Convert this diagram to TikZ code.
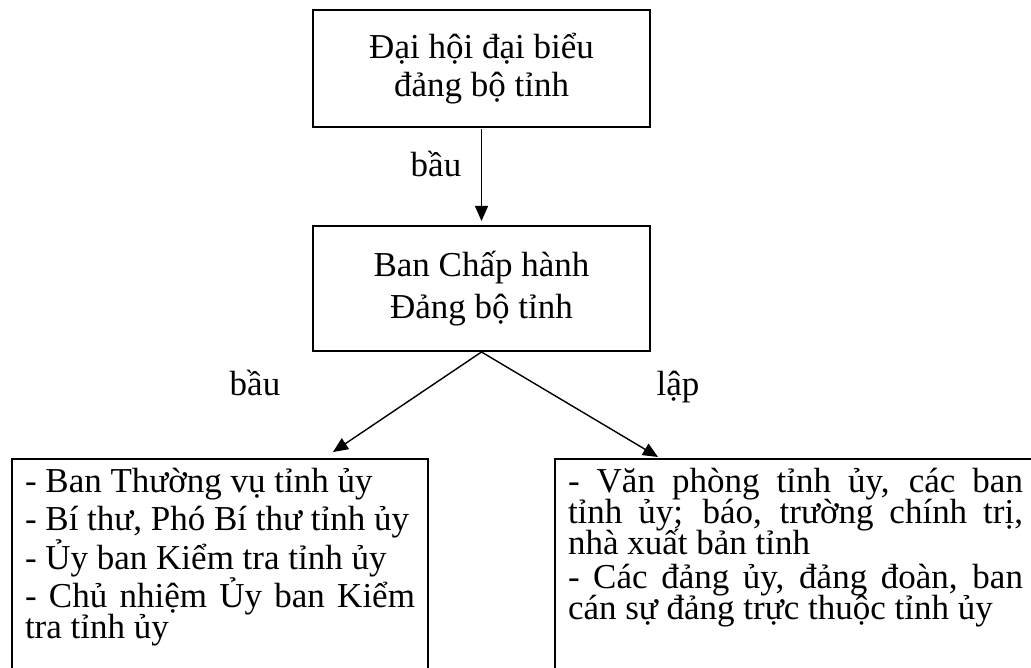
\documentclass[tikz,border=0pt]{standalone}
\usepackage{fontspec}
\setmainfont{Liberation Serif}
\usetikzlibrary{arrows.meta}
\newcommand\mylistfont{\fontsize{35}{31}\selectfont\lineskiplimit-100pt\relax\lineskip0pt\relax\parskip7.5pt\relax}
\newcommand\mylistfontB{\mylistfont\parskip3pt\relax}
\begin{document}
\begin{tikzpicture}[x=1pt,y=-1pt,
  box/.style={draw, line width=2pt, minimum width=337pt, align=center, inner sep=0pt},
  listbox/.style={draw, line width=2pt, anchor=north west, inner xsep=13pt, inner ysep=0pt, align=justify},
  arr/.style={line width=1.4pt, -{Triangle[length=15pt,width=13pt]}},
  lab/.style={font=\fontsize{35}{38}\selectfont, anchor=base, inner sep=0pt}]
\useasboundingbox (0,0) rectangle (1031,668);
\clip (0,0) rectangle (1031,668);
\node[box, minimum height=117pt, font=\fontsize{35}{38}\selectfont] (top) at (481.5,68.5) {Đại hội đại biểu\\đảng bộ tỉnh};
\node[box, minimum height=125pt, font=\fontsize{35}{42}\selectfont] (mid) at (481.5,288.5) {Ban Chấp hành\\Đảng bộ tỉnh};
\node[listbox, text width=390pt, font=\mylistfont] (L) at (11,458) {\rule{0pt}{33pt}- Ban Thường vụ tỉnh ủy\par - Bí thư, Phó Bí thư tỉnh ủy\par - Ủy ban Kiểm tra tỉnh ủy\par - Chủ nhiệm Ủy ban Kiểm\linebreak tra tỉnh ủy\rule[-60pt]{0pt}{60pt}};
\node[listbox, text width=455pt, font=\mylistfontB] (R) at (554,458) {\rule{0pt}{33pt}- Văn phòng tỉnh ủy, các ban\linebreak tỉnh ủy; báo, trường chính trị,\linebreak nhà xuất bản tỉnh\par - Các đảng ủy, đảng đoàn, ban\linebreak cán sự đảng trực thuộc tỉnh ủy\rule[-90pt]{0pt}{90pt}};
\node[lab] (b1) at (436,177) {bầu};
\node[lab] (b2) at (255,395) {bầu};
\node[lab] (lp) at (678,395) {lập};
\coordinate (lt) at (333,452);
\coordinate (rt) at (658,457);
\draw[arr, shorten <=1pt, shorten >=4pt] (top.south) -- (mid.north);
\draw[arr] (mid.south) -- (lt);
\draw[arr] (mid.south) -- (rt);
\end{tikzpicture}
\end{document}
